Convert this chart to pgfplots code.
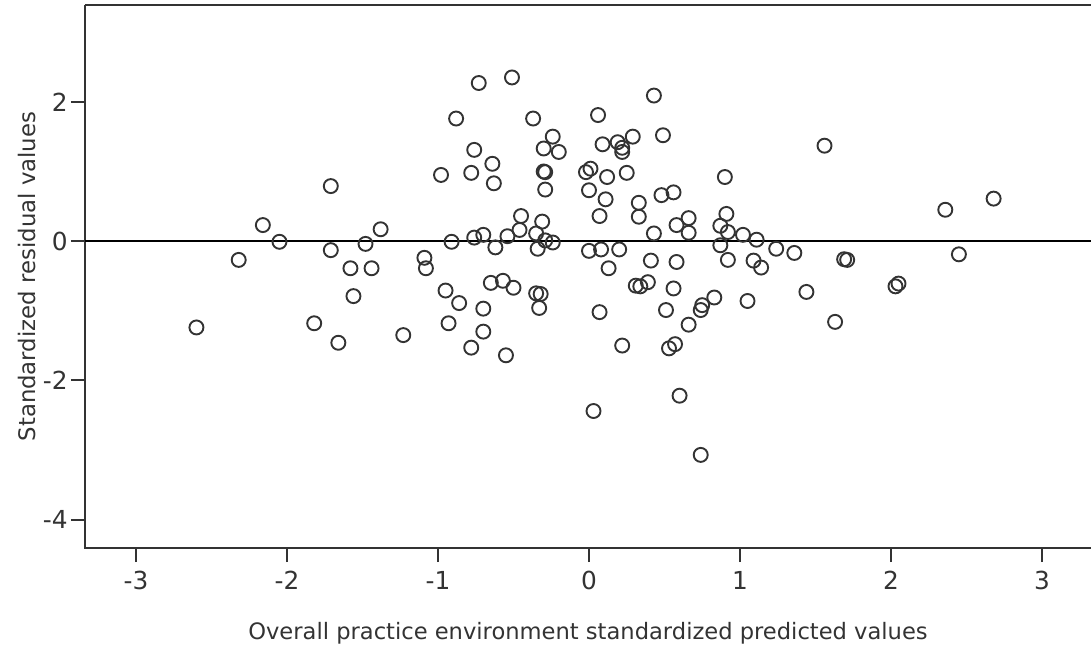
\documentclass[border=0pt]{standalone}
\usepackage{fontspec}
\setmainfont{DejaVu Sans}
\usepackage{pgfplots}
\pgfplotsset{compat=1.18}
\definecolor{axgray}{HTML}{333333}
\begin{document}
\begin{tikzpicture}
\begin{axis}[
  at={(0,0)}, anchor=south west,
  scale only axis, width=503pt, height=271.6pt,
  xmin=-3.338, xmax=3.325, ymin=-4.41, ymax=3.39,
  axis line style={draw=none},
  clip=false,
  tick pos=left, tick align=outside,
  major tick length=7pt,
  tick style={axgray, line width=1pt},
  xtick={-3,-2,-1,0,1,2,3}, xticklabels={-3,-2,-1,0,1,2,3},
  ytick={-4,-2,0,2}, yticklabels={-4,-2,0,2},
  tick label style={font=\fontsize{12.4}{15}\selectfont, text=axgray},
  xticklabel style={yshift=-1pt},
  yticklabel style={inner sep=1.5pt},
  xlabel={Overall practice environment standardized predicted values},
  ylabel={Standardized residual values},
  every axis x label/.style={at={(axis description cs:0.5,-0.1558)}, anchor=center, font=\fontsize{11.3}{14}\selectfont, text=axgray},
  every axis y label/.style={at={(axis description cs:-0.0577,0.5)}, rotate=90, anchor=center, font=\fontsize{11.4}{14}\selectfont, text=axgray},
]
\draw[axgray, line width=1pt] (rel axis cs:0,1) -- (rel axis cs:0,0) -- (rel axis cs:1,0);
\draw[axgray, line width=1pt] (rel axis cs:0,1) -- (rel axis cs:1,1);
\addplot[only marks, mark=o, mark size=3.5pt, mark options={line width=0.95pt, draw=axgray}] table {
x y
-2.60 -1.24
-2.32 -0.27
-2.16 0.23
-2.05 -0.01
-1.82 -1.18
-1.71 0.79
-1.71 -0.13
-1.66 -1.46
-1.58 -0.39
-1.56 -0.79
-1.48 -0.04
-1.44 -0.39
-1.38 0.17
-1.23 -1.35
-1.09 -0.24
-1.08 -0.39
-0.73 2.27
-0.51 2.35
-0.88 1.76
-0.37 1.76
-0.24 1.50
-0.30 1.33
-0.20 1.28
-0.76 1.31
-0.64 1.11
-0.98 0.95
-0.78 0.98
-0.63 0.83
-0.30 1.00
-0.29 0.99
-0.29 0.74
-0.45 0.36
-0.31 0.28
-0.46 0.16
-0.35 0.11
-0.91 -0.01
-0.76 0.05
-0.70 0.09
-0.54 0.07
-0.62 -0.09
-0.29 0.01
-0.24 -0.02
-0.34 -0.11
-0.95 -0.71
-0.86 -0.89
-0.65 -0.60
-0.57 -0.57
-0.50 -0.67
-0.35 -0.75
-0.32 -0.76
-0.33 -0.96
-0.70 -0.97
-0.93 -1.18
-0.70 -1.30
-0.78 -1.53
-0.55 -1.64
0.03 -2.44
0.43 2.09
0.06 1.81
0.09 1.39
0.19 1.42
0.22 1.34
0.22 1.28
0.29 1.50
0.49 1.52
-0.02 0.99
0.01 1.04
0.12 0.92
0.25 0.98
0.00 0.73
0.11 0.60
0.33 0.55
0.48 0.66
0.56 0.70
0.07 0.36
0.33 0.35
0.90 0.92
0.91 0.39
0.87 0.22
0.92 0.13
0.58 0.23
0.66 0.33
0.66 0.12
0.43 0.11
1.02 0.09
1.11 0.02
1.24 -0.11
0.87 -0.06
0.00 -0.14
0.08 -0.12
0.20 -0.12
0.41 -0.28
0.58 -0.30
0.13 -0.39
0.92 -0.27
1.09 -0.28
1.14 -0.38
0.31 -0.64
0.34 -0.65
0.39 -0.59
0.56 -0.68
0.07 -1.02
0.51 -0.99
0.83 -0.81
0.75 -0.92
0.74 -0.99
1.05 -0.86
0.66 -1.20
0.22 -1.50
0.53 -1.54
0.57 -1.48
0.60 -2.22
0.74 -3.07
1.56 1.37
2.36 0.45
2.68 0.61
1.36 -0.17
1.69 -0.26
1.71 -0.27
2.45 -0.19
1.44 -0.73
1.63 -1.16
2.03 -0.65
2.05 -0.61
};
\addplot[black, line width=1.2pt, no marks] coordinates {(-3.338,0) (3.325,0)};
\end{axis}
\pgfresetboundingbox
\path[use as bounding box] (-42.5pt,-50.35pt) rectangle (503pt,274.1pt);
\end{tikzpicture}
\end{document}
